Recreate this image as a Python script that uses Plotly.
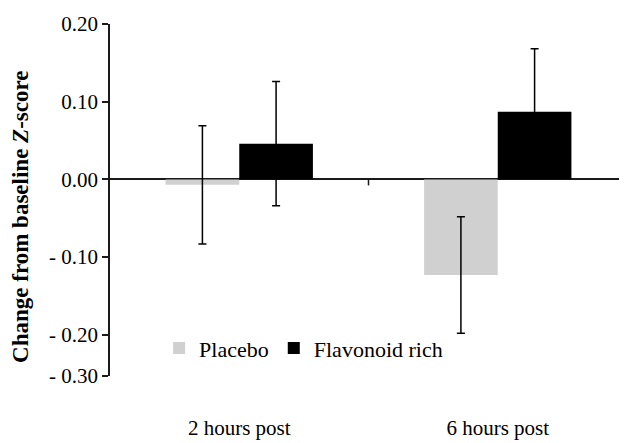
import plotly.graph_objects as go

categories = ["2 hours post", "6 hours post"]
placebo = [-0.007, -0.123]
placebo_err = [0.076, 0.075]
flavonoid = [0.046, 0.087]
flavonoid_err = [0.080, 0.081]
ytick_vals = [0.2, 0.1, 0.0, -0.1, -0.2, -0.253]
ytick_text = ["0.20", "0.10", "0.00", "- 0.10", "- 0.20", "- 0.30"]

FONT = "Liberation Serif, Times New Roman, serif"

fig = go.Figure()
fig.add_trace(go.Bar(
    name="Placebo", x=categories, y=placebo,
    marker=dict(color="#cfd0cf", line=dict(width=0)),
    error_y=dict(type="data", array=placebo_err, color="#000000", thickness=1.5, width=4),
))
fig.add_trace(go.Bar(
    name="Flavonoid rich", x=categories, y=flavonoid,
    marker=dict(color="#000000", line=dict(width=0)),
    error_y=dict(type="data", array=flavonoid_err, color="#000000", thickness=1.5, width=4),
))

# tick mark on the zero line between the categories
fig.add_shape(type="line", xref="x", yref="y", x0=0.5, x1=0.5,
              ysizemode="pixel", yanchor=0, y0=0, y1=-6,
              line=dict(color="#1a1a1a", width=1.5))

# y-axis title (placed slightly below the axis centre, as in the reference)
fig.add_annotation(text="<b>Change from baseline <i>Z</i>-score</b>",
                   xref="paper", yref="paper", x=0, y=0.452, xshift=-89,
                   xanchor="center", yanchor="middle", textangle=-90, showarrow=False,
                   font=dict(size=23, family=FONT, color="black"))

# page body has an 8px margin, so the figure is sized to fit the 627x443 window
fig.update_layout(
    width=619, height=435,
    margin=dict(l=102, r=0, t=16, b=67, autoexpand=False),
    paper_bgcolor="white", plot_bgcolor="white",
    barmode="group", bargap=0.43, bargroupgap=0,
    font=dict(family=FONT, size=21, color="black"),
    showlegend=True,
    legend=dict(orientation="h", x=0.095, y=0.079, xanchor="left", yanchor="middle",
                font=dict(size=22, family=FONT), bgcolor="rgba(0,0,0,0)",
                itemwidth=30, tracegroupgap=0),
    xaxis=dict(range=[-0.5, 1.5], showline=False, ticks="", showgrid=False,
               zeroline=False, automargin=False, ticklabelstandoff=37,
               tickfont=dict(size=21, family=FONT)),
    yaxis=dict(range=[-0.253, 0.2], tickvals=ytick_vals, ticktext=ytick_text,
               automargin=False,
               showline=True, linecolor="#1a1a1a", linewidth=1.5,
               ticks="outside", ticklen=6, tickwidth=1.5, tickcolor="#1a1a1a",
               showgrid=False, zeroline=True, zerolinecolor="#1a1a1a", zerolinewidth=1.5,
               tickfont=dict(size=21, family=FONT)),
)

fig.write_html("out.html")
